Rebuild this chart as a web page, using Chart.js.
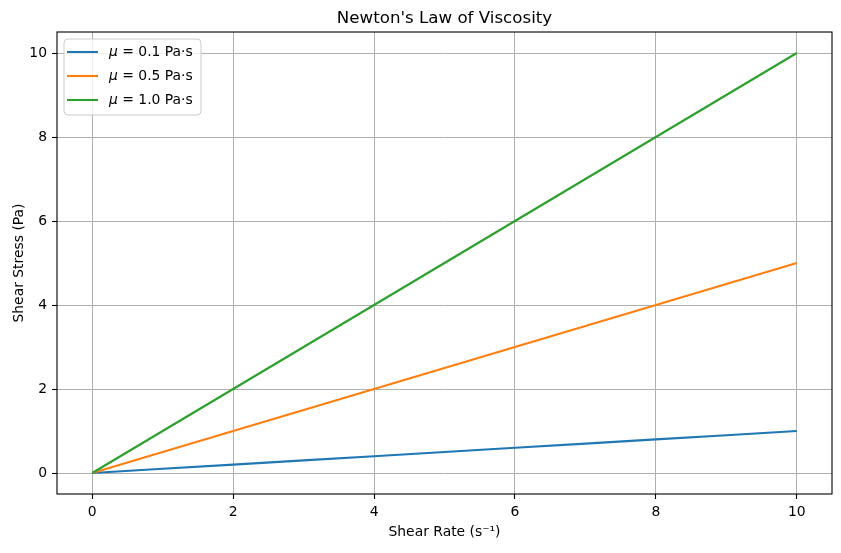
<!DOCTYPE html>
<html><head><meta charset="utf-8">
<script src="https://cdn.jsdelivr.net/npm/chart.js@4.4.0/dist/chart.umd.min.js"></script>
<style>html,body{margin:0;padding:0;background:#fff;}#wrap{width:841px;height:553px;}</style>
</head><body><div id="wrap"><canvas id="c" width="841" height="553"></canvas></div>
<script>
const shearRate = [0, 1, 2, 3, 4, 5, 6, 7, 8, 9, 10];
const stressMu01 = [0, 0.1, 0.2, 0.3, 0.4, 0.5, 0.6, 0.7, 0.8, 0.9, 1.0];
const stressMu05 = [0, 0.5, 1.0, 1.5, 2.0, 2.5, 3.0, 3.5, 4.0, 4.5, 5.0];
const stressMu10 = [0, 1, 2, 3, 4, 5, 6, 7, 8, 9, 10];
const seriesLabels = ['μ = 0.1 Pa·s', 'μ = 0.5 Pa·s', 'μ = 1.0 Pa·s'];
const seriesColors = ['#1f77b4', '#ff7f0e', '#2ca02c'];
const xTicks = [0, 2, 4, 6, 8, 10];
const yTicks = [0, 2, 4, 6, 8, 10];

const FONT = 'DejaVu Sans';
const FS = 13.9;

function pts(ys) { return shearRate.map((x, i) => ({x: x, y: ys[i]})); }

const spinesPlugin = {
  id: 'spines',
  afterDatasetsDraw(chart) {
    const {ctx, chartArea: a} = chart;
    ctx.save();
    ctx.strokeStyle = '#000';
    ctx.lineWidth = 1.1;
    ctx.strokeRect(a.left, a.top, a.right - a.left, a.bottom - a.top);
    ctx.restore();
  }
};

const legendPlugin = {
  id: 'mplLegend',
  afterDraw(chart) {
    const {ctx, chartArea: a} = chart;
    const x0 = a.left + 7, y0 = a.top + 7, w = 137, h = 76, r = 4;
    ctx.save();
    ctx.beginPath();
    ctx.moveTo(x0 + r, y0);
    ctx.lineTo(x0 + w - r, y0); ctx.quadraticCurveTo(x0 + w, y0, x0 + w, y0 + r);
    ctx.lineTo(x0 + w, y0 + h - r); ctx.quadraticCurveTo(x0 + w, y0 + h, x0 + w - r, y0 + h);
    ctx.lineTo(x0 + r, y0 + h); ctx.quadraticCurveTo(x0, y0 + h, x0, y0 + h - r);
    ctx.lineTo(x0, y0 + r); ctx.quadraticCurveTo(x0, y0, x0 + r, y0);
    ctx.closePath();
    ctx.fillStyle = 'rgba(255,255,255,0.8)';
    ctx.fill();
    ctx.strokeStyle = '#cccccc';
    ctx.lineWidth = 1;
    ctx.stroke();
    chart.data.datasets.forEach((ds, i) => {
      const y = y0 + 13 + i * 24;
      ctx.strokeStyle = ds.borderColor;
      ctx.lineWidth = 2.1;
      ctx.beginPath();
      ctx.moveTo(x0 + 3, y); ctx.lineTo(x0 + 34, y);
      ctx.stroke();
      ctx.fillStyle = '#000';
      ctx.textBaseline = 'middle';
      ctx.textAlign = 'left';
      const label = ds.label;
      const first = label.charAt(0), rest = label.slice(1);
      ctx.font = 'italic ' + FS + 'px "' + FONT + '"';
      const tx = x0 + 45;
      ctx.fillText(first, tx, y);
      const mw = ctx.measureText(first).width;
      ctx.font = FS + 'px "' + FONT + '"';
      ctx.fillText(rest, tx + mw, y);
    });
    ctx.restore();
  }
};

const tickFont = {family: FONT, size: FS};

new Chart(document.getElementById('c'), {
  type: 'line',
  data: {
    datasets: [
      {label: seriesLabels[0], data: pts(stressMu01), borderColor: seriesColors[0], order: 3},
      {label: seriesLabels[1], data: pts(stressMu05), borderColor: seriesColors[1], order: 2},
      {label: seriesLabels[2], data: pts(stressMu10), borderColor: seriesColors[2], order: 1}
    ].map(d => Object.assign(d, {borderWidth: 2.1, pointRadius: 0, pointHoverRadius: 0, tension: 0, fill: false, backgroundColor: d.borderColor}))
  },
  options: {
    responsive: false,
    devicePixelRatio: 1,
    animation: false,
    events: [],
    layout: {padding: {left: 0, right: 9, top: 0, bottom: 0}},
    plugins: {
      legend: {display: false},
      tooltip: {enabled: false},
      title: {
        display: true,
        fullSize: false,
        text: "Newton's Law of Viscosity",
        color: '#000',
        font: {family: FONT, size: 16.67, weight: 'normal', lineHeight: 1.2},
        padding: {top: 9, bottom: 3}
      }
    },
    scales: {
      x: {
        type: 'linear',
        min: -0.5, max: 10.5,
        afterBuildTicks: s => { s.ticks = xTicks.map(v => ({value: v})); },
        afterFit: s => { s.height = 59; },
        ticks: {color: '#000', font: tickFont, padding: 5, maxRotation: 0, callback: v => String(v)},
        grid: {color: '#b0b0b0', lineWidth: 1, tickColor: '#000', tickLength: 5, tickWidth: 1.1},
        border: {display: false},
        title: {display: true, text: 'Shear Rate (s⁻¹)', color: '#000', font: {family: FONT, size: FS, lineHeight: 1.2}, padding: {top: 0, bottom: 12}}
      },
      y: {
        type: 'linear',
        min: -0.5, max: 10.5,
        afterBuildTicks: s => { s.ticks = yTicks.map(v => ({value: v})); },
        afterFit: s => { s.width = 57; },
        ticks: {color: '#000', font: tickFont, padding: 5, callback: v => String(v)},
        grid: {color: '#b0b0b0', lineWidth: 1, tickColor: '#000', tickLength: 5, tickWidth: 1.1},
        border: {display: false},
        title: {display: true, text: 'Shear Stress (Pa)', color: '#000', font: {family: FONT, size: FS, lineHeight: 1.2}, padding: {top: 11.5, bottom: 0}}
      }
    }
  },
  plugins: [spinesPlugin, legendPlugin]
});
</script>
</body></html>
